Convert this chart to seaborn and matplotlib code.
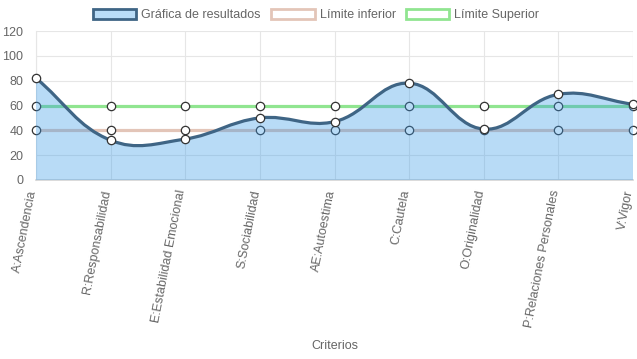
import numpy as np
import pandas as pd
import matplotlib.pyplot as plt
import matplotlib.transforms as mtransforms
import seaborn as sns
from matplotlib.path import Path
from matplotlib.patches import PathPatch, Patch

# data
criterios = ['A:Ascendencia', 'R:Responsabilidad', 'E:Estabilidad Emocional',
             'S:Sociabilidad', 'AE:Autoestima', 'C:Cautela', 'O:Originalidad',
             'P:Relaciones Personales', 'V:Vigor']
resultados = [82, 32, 33, 50, 47, 78, 41, 69, 61]
limite_inferior = [40, 40, 40, 40, 40, 40, 40, 40, 40]
limite_superior = [60, 60, 60, 60, 60, 60, 60, 60, 60]
y_ticks = [0, 20, 40, 60, 80, 100, 120]

sns.set_style('white')
plt.rcParams['font.family'] = ['Liberation Sans', 'DejaVu Sans']

df = pd.DataFrame({'x': range(len(criterios)), 'res': resultados,
                   'inf': limite_inferior, 'sup': limite_superior})

fig = plt.figure(figsize=(6.37, 3.59), dpi=100)
ax = fig.add_axes([36 / 637, 1 - 180 / 359, (633 - 36) / 637, (180 - 31) / 359])
ax.set_xlim(0, len(criterios) - 1)
ax.set_ylim(0, 120)

grid_c = '#e6e6e6'
text_c = '#666666'
blue_line = '#3f6585'
tan = '#e3c5b8'
green = '#90e590'

# limit lines (drawn behind the results fill)
mk = dict(marker='o', markersize=6, markerfacecolor='white',
          markeredgecolor='#333333', markeredgewidth=0.9, clip_on=False)
sns.lineplot(data=df, x='x', y='inf', ax=ax, color=tan, linewidth=2.3,
             zorder=3, **mk)
sns.lineplot(data=df, x='x', y='sup', ax=ax, color=green, linewidth=2.3,
             zorder=3, **mk)

# smooth curve like Chart.js (tension 0.4), computed in pixel space
pts = ax.transData.transform(np.column_stack([df['x'], df['res']]))
t = 0.4
n = len(pts)
cp_prev = np.zeros_like(pts)
cp_next = np.zeros_like(pts)
for i in range(n):
    p0 = pts[max(i - 1, 0)]
    p1 = pts[i]
    p2 = pts[min(i + 1, n - 1)]
    d01 = np.hypot(*(p1 - p0))
    d12 = np.hypot(*(p2 - p1))
    tot = d01 + d12
    s01 = d01 / tot if tot else 0
    s12 = d12 / tot if tot else 0
    cp_prev[i] = p1 - t * s01 * (p2 - p0)
    cp_next[i] = p1 + t * s12 * (p2 - p0)
y0, y1 = ax.transData.transform([[0, 0], [0, 120]])[:, 1]
cp_prev[:, 1] = np.clip(cp_prev[:, 1], y0, y1)
cp_next[:, 1] = np.clip(cp_next[:, 1], y0, y1)

verts = [pts[0]]
codes = [Path.MOVETO]
for i in range(n - 1):
    verts += [cp_next[i], cp_prev[i + 1], pts[i + 1]]
    codes += [Path.CURVE4] * 3
inv = ax.transData.inverted()
curve = inv.transform(np.array(verts))

line_path = Path(curve, codes)
fill_verts = np.vstack([curve, [[len(criterios) - 1, 0], [0, 0], curve[0]]])
fill_codes = codes + [Path.LINETO, Path.LINETO, Path.CLOSEPOLY]
ax.add_patch(PathPatch(Path(fill_verts, fill_codes), facecolor=(0.21, 0.6, 0.91, 0.35),
                       edgecolor='none', zorder=4))
ax.add_patch(PathPatch(line_path, facecolor='none', edgecolor=blue_line,
                       linewidth=2.3, zorder=5, capstyle='round'))
sns.scatterplot(data=df, x='x', y='res', ax=ax, s=36, color='white',
                edgecolor='#333333', linewidth=0.9, zorder=6, clip_on=False)

# axes styling
ax.set_xticks(range(len(criterios)))
ax.set_xticklabels([])
lbl_tr = ax.get_xaxis_transform() + mtransforms.ScaledTranslation(
    -3 / 100, -10 / 100, fig.dpi_scale_trans)
for i, name in enumerate(criterios):
    ax.text(i, 0, name, transform=lbl_tr, rotation=79, ha='right', va='center',
            rotation_mode='anchor', color=text_c, fontsize=9, clip_on=False)
ax.set_yticks(y_ticks)
ax.set_yticklabels([str(v) for v in y_ticks], color=text_c, fontsize=9)
ax.tick_params(axis='both', length=7, color=grid_c, width=0.8, pad=2)
ax.tick_params(axis='x', length=5, pad=2)
ax.grid(True, color=grid_c, linewidth=0.8)
ax.set_axisbelow(True)
for side in ['top', 'right']:
    ax.spines[side].set_visible(False)
ax.spines['left'].set_color(grid_c)
ax.spines['left'].set_linewidth(0.8)
ax.spines['bottom'].set_color('#d4d4d4')
ax.spines['bottom'].set_linewidth(1.2)
ax.set_ylabel('')
ax.set_xlabel('')
fig.text((36 + 633) / 2 / 637, 1 - 346 / 359, 'Criterios', ha='center',
         va='center', color=text_c, fontsize=9)

handles = [
    Patch(facecolor='#b9dcf7', edgecolor=blue_line, linewidth=2),
    Patch(facecolor='white', edgecolor=tan, linewidth=2),
    Patch(facecolor='white', edgecolor=green, linewidth=2),
]
fig.legend(handles, ['Gráfica de resultados', 'Límite inferior', 'Límite Superior'],
           loc='center', bbox_to_anchor=(0.496, 1 - 15 / 359), ncol=3, frameon=False,
           fontsize=9, labelcolor=text_c, handlelength=3.5, handleheight=0.9,
           handletextpad=0.4, columnspacing=0.8, borderaxespad=0)

plt.savefig('out.png', dpi=100)
plt.close()
